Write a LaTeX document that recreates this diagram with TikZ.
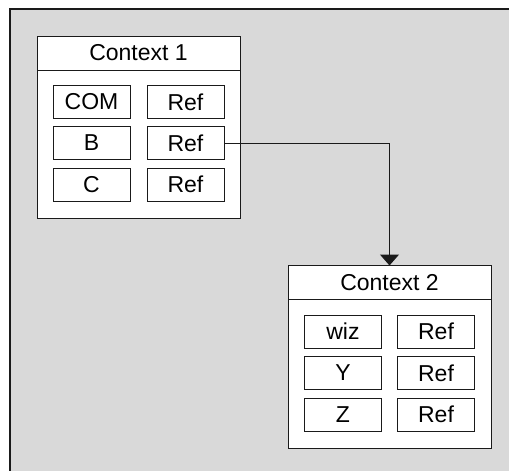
\documentclass[tikz,border=0pt]{standalone}
\usepackage{fontspec}
\setmainfont{Liberation Sans}
\usetikzlibrary{arrows.meta}
\definecolor{panel}{HTML}{D9D9D9}
\definecolor{ink}{HTML}{1A1A1A}
\tikzset{
  ctxbox/.style={draw=ink, fill=white, line width=1pt, minimum width=203pt, minimum height=182pt, inner sep=0pt},
  ctxhead/.style={draw=ink, fill=white, line width=1pt, minimum width=203pt, minimum height=34pt, inner sep=0pt,
                  font=\fontsize{23}{26}\selectfont},
  cell/.style={draw=ink, fill=white, line width=1pt, minimum width=77pt, minimum height=33pt, inner sep=0pt,
               font=\fontsize{23}{26}\selectfont},
  link/.style={draw=ink, line width=1pt, -{Triangle[width=19pt,length=11pt]}}
}
\begin{document}
\begin{tikzpicture}[x=1pt,y=-1pt]
  \useasboundingbox (0,0) rectangle (509,471);
  % grey panel, its right and bottom edges run off the page
  \fill[panel] (10,9) rectangle (525,485);
  \draw[ink, line width=1.2pt] (10,485) -- (10,9) -- (525,9);

  % first context
  \node[ctxbox] (ctx1) at (138.5,127) {};
  \node[ctxhead] (h1) at (138.5,53) {Context 1};
  \node[cell] (a1) at (91.5,102) {COM};
  \node[cell] (r1) at (185.5,102) {Ref};
  \node[cell] (a2) at (91.5,143) {B};
  \node[cell] (r2) at (185.5,143) {Ref};
  \node[cell] (a3) at (91.5,184.5) {C};
  \node[cell] (r3) at (185.5,184.5) {Ref};

  % second context
  \node[ctxbox] (ctx2) at (389.5,357) {};
  \node[ctxhead] (h2) at (389.5,282.5) {Context 2};
  \node[cell] (b1) at (343,331.5) {wiz};
  \node[cell] (s1) at (436,331.5) {Ref};
  \node[cell] (b2) at (343,373) {Y};
  \node[cell] (s2) at (436,373) {Ref};
  \node[cell] (b3) at (343,414.5) {Z};
  \node[cell] (s3) at (436,414.5) {Ref};

  % reference link
  \draw[link] (r2.east) -| (ctx2.north);
\end{tikzpicture}
\end{document}
